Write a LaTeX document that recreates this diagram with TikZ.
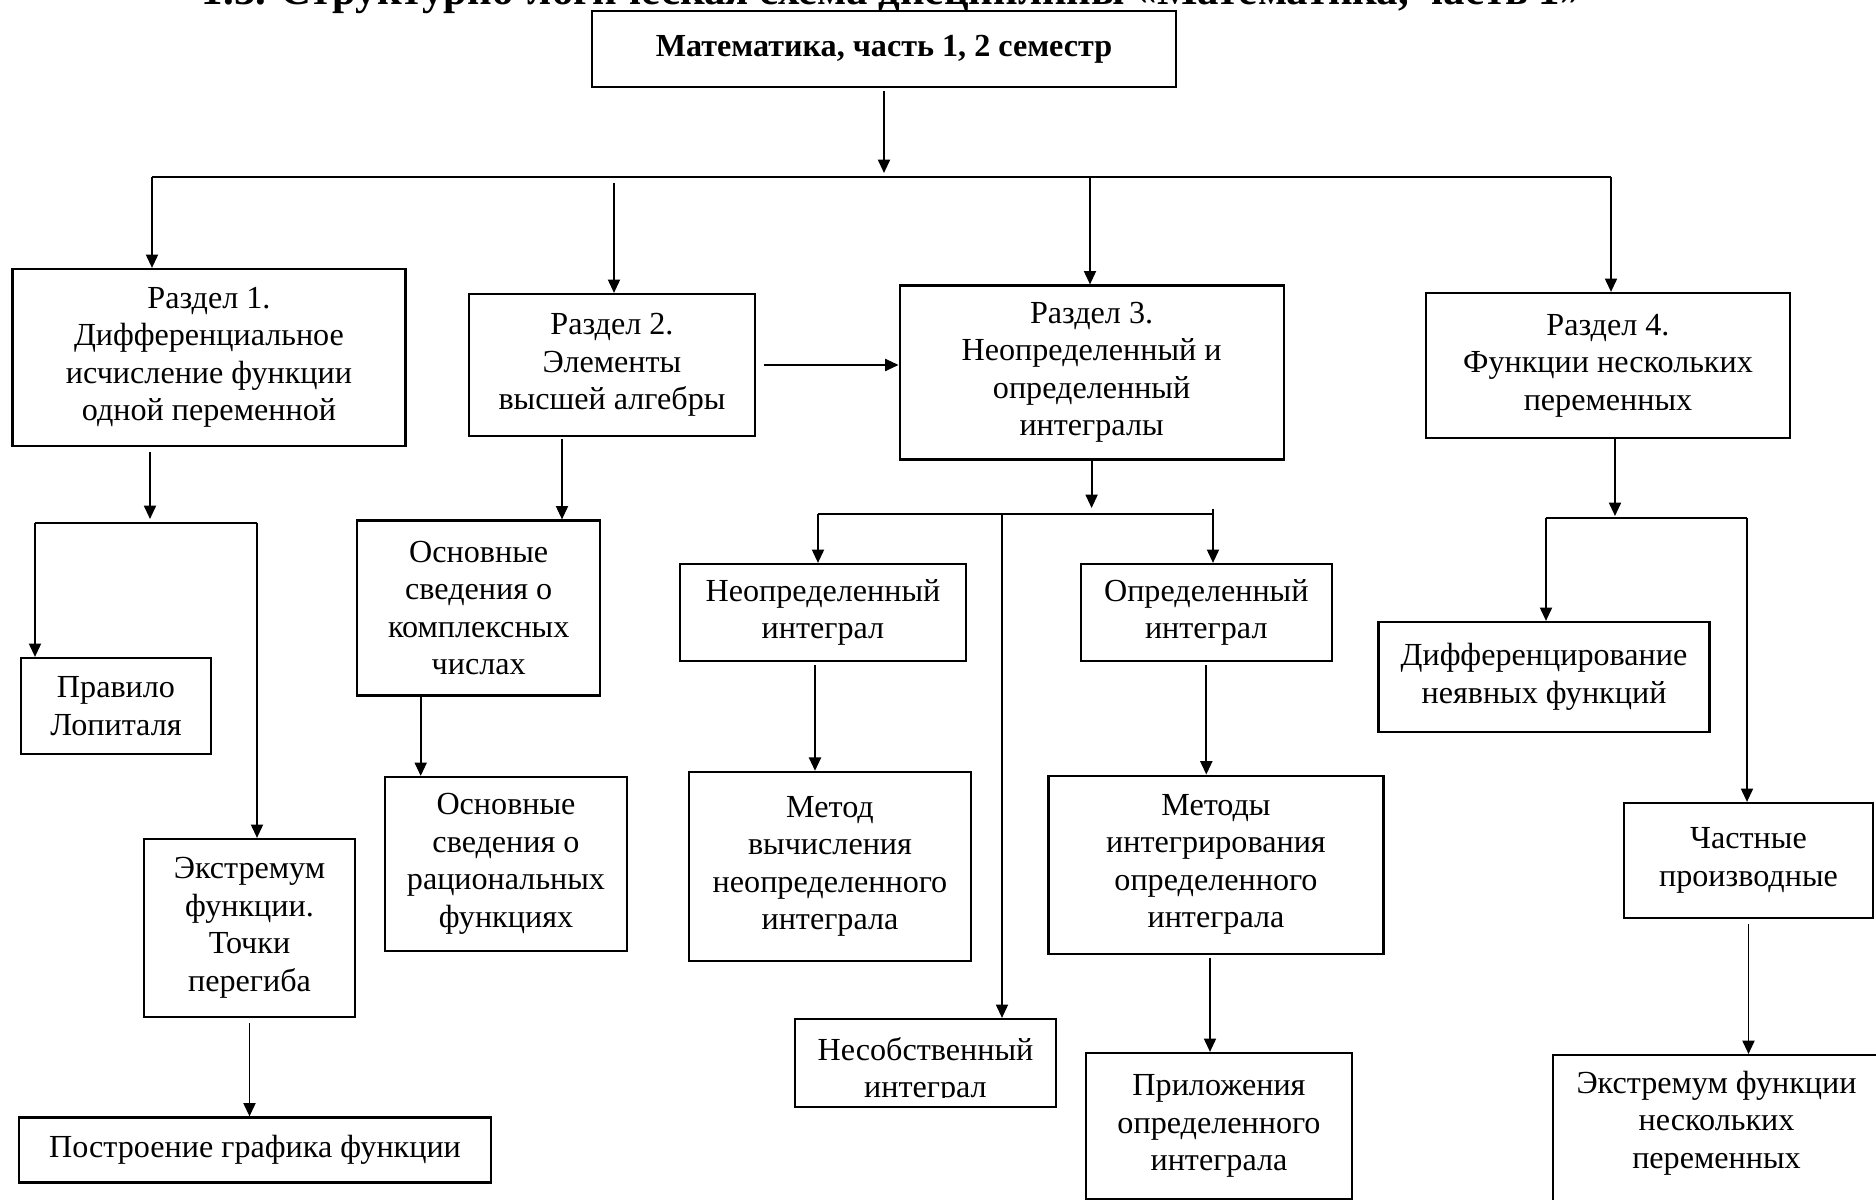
\documentclass[tikz,border=0pt]{standalone}
\usepackage{fontspec}
\setmainfont{Liberation Serif}
\usetikzlibrary{arrows.meta}
\newlength{\pu}
\setlength{\pu}{0.3733pt}

\begin{document}
\begin{tikzpicture}[x=0.3733pt, y=-0.3733pt, >={Triangle[length=5pt,width=4.5pt]}, line width=0.7pt,
        every node/.style={font=\fontsize{12}{14}\selectfont, align=center, inner sep=0pt},
        box/.style={draw, line width=0.8pt}]
    \useasboundingbox (0,0) rectangle (1876,1200);

    % title, cut by the page edge
    \node[font=\fontsize{16}{18}\selectfont\bfseries, anchor=base west] (title) at (201,5) {1.3. Структурно-логическая схема дисциплины «Математика, часть 1»};

    \node[box, minimum width=584\pu, minimum height=76\pu, font=\fontsize{12}{14}\selectfont\bfseries] (top) at (884,49) {Математика, часть 1, 2 семестр};

    % sections
    \node[box, minimum width=393\pu, minimum height=177\pu] (r1) at (209,357.5) {Раздел 1.\\Дифференциальное\\исчисление функции\\одной переменной};
    \node[box, minimum width=286\pu, minimum height=142\pu] (r2) at (612,365) {Раздел 2.\\Элементы\\высшей алгебры};
    \node[box, minimum width=384\pu, minimum height=174\pu] (r3) at (1091.6,372.5) {Раздел 3.\\Неопределенный и\\определенный\\интегралы};
    \node[box, minimum width=364\pu, minimum height=145\pu] (r4) at (1608,365.5) {Раздел 4.\\Функции нескольких\\переменных};

    % section 1
    \node[box, minimum width=190\pu, minimum height=96\pu] (lopital) at (116,706) {Правило\\Лопиталя};
    \node[box, minimum width=211\pu, minimum height=178\pu] (extr) at (249.5,928) {Экстремум\\функции.\\Точки\\перегиба};
    \node[box, minimum width=472\pu, minimum height=65\pu] (graph) at (255,1150) {Построение графика функции};

    % section 2
    \node[box, minimum width=243\pu, minimum height=175\pu] (complex) at (478.7,608) {Основные\\сведения о\\комплексных\\числах};
    \node[box, minimum width=242\pu, minimum height=174\pu] (ration) at (506,864) {Основные\\сведения о\\рациональных\\функциях};

    % section 3
    \node[box, minimum width=286\pu, minimum height=97\pu] (indef) at (823,612.5) {Неопределенный\\интеграл};
    \node[box, minimum width=251\pu, minimum height=97\pu] (def) at (1206.3,612.5) {Определенный\\интеграл};
    \node[box, minimum width=282\pu, minimum height=189\pu] (indefmeth) at (830,866.4) {Метод\\вычисления\\неопределенного\\интеграла};
    \node[box, minimum width=335\pu, minimum height=178\pu] (defmeth) at (1216,864.6) {Методы\\интегрирования\\определенного\\интеграла};
    \node[box, minimum width=261\pu, minimum height=88\pu] (improper) at (925.5,1063) {};
    \begin{scope}
        \clip (improper.north west) rectangle ([yshift=11\pu]improper.south east);
        \node (impropertxt) at (925.5,1071) {Несобственный\\интеграл};
    \end{scope}
    \node[box, minimum width=266\pu, minimum height=146\pu] (applic) at (1219,1126) {Приложения\\определенного\\интеграла};

    % section 4
    \node[box, minimum width=331\pu, minimum height=110\pu] (implicit) at (1544,677) {Дифференцирование\\неявных функций};
    \node[box, minimum width=249\pu, minimum height=115\pu] (partial) at (1748.5,860.5) {Частные\\производные};
    \node[box, minimum width=327\pu, minimum height=170\pu, anchor=north] (extrmulti) at (1716.5,1054) {};
    \node (extrmultitxt) at (1716.5,1123) {Экстремум функции\\нескольких\\переменных};

    % top level
    \coordinate (busl) at (152,177);
    \coordinate (busr) at (1611,177);
    \coordinate (bus2) at (614,183);
    \coordinate (bus3) at (1090,177);
    \draw[->, shorten <=3\pu, shorten >=4\pu] (top) -- (top |- busl);
    \draw (busl) -- (busr);
    \draw[->] (busl) -- (busl |- r1.north);
    \draw[->] (bus2) -- (bus2 |- r2.north);
    \draw[->] (bus3) -- (bus3 |- r3.north);
    \draw[->] (busr) -- (busr |- r4.north);
    \draw[->, shorten <=8\pu] (r2.east) -- (r2.east -| r3.west);

    % section 1 links
    \coordinate (b1l) at (35,523);
    \coordinate (b1m) at (150,523);
    \coordinate (b1r) at (257,523);
    \draw[->, shorten <=5\pu, shorten >=4\pu] (r1.south -| b1m) -- (b1m);
    \draw (b1l) -- (b1r);
    \draw[->] (b1l) -- (b1l |- lopital.north);
    \draw[->] (b1r) -- (b1r |- extr.north);
    \draw[->, shorten <=5\pu] (extr.south) -- (extr.south |- graph.north);

    % section 2 links
    \draw[->, shorten <=2\pu] ([xshift=-50\pu]r2.south) -- ([xshift=-50\pu]r2.south |- complex.north);
    \draw[->] ([xshift=-58\pu]complex.south) -- ([xshift=-58\pu]complex.south |- ration.north);

    % section 3 links
    \coordinate (b3l) at (818,514);
    \coordinate (b3m) at (1002,514);
    \coordinate (b3r) at (1213,509);
    \draw[->, shorten >=6\pu] (r3) -- (r3 |- b3l);
    \draw (b3l) -- (b3l -| b3r);
    \draw[->] (b3l) -- (b3l |- indef.north);
    \draw[->] (b3m) -- (b3m |- improper.north);
    \draw[->] (b3r) -- (b3r |- def.north);
    \draw[->, shorten <=3\pu] ([xshift=-8\pu]indef.south) -- ([xshift=-8\pu]indef.south |- indefmeth.north);
    \draw[->, shorten <=3\pu] (def.south) -- (def.south |- defmeth.north);
    \draw[->, shorten <=3\pu] ([xshift=-6\pu]defmeth.south) -- ([xshift=-6\pu]defmeth.south |- applic.north);

    % section 4 links
    \coordinate (b4l) at (1546,518);
    \coordinate (b4r) at (1747,518);
    \draw[->, shorten >=2\pu] ([xshift=7\pu]r4.south) -- ([xshift=7\pu]r4.south |- b4l);
    \draw (b4l) -- (b4r);
    \draw[->] (b4l) -- (b4l |- implicit.north);
    \draw[->] (b4r) -- (b4r |- partial.north);
    \draw[->, shorten <=5\pu] (partial.south) -- (partial.south |- extrmulti.north);
\end{tikzpicture}
\end{document}
